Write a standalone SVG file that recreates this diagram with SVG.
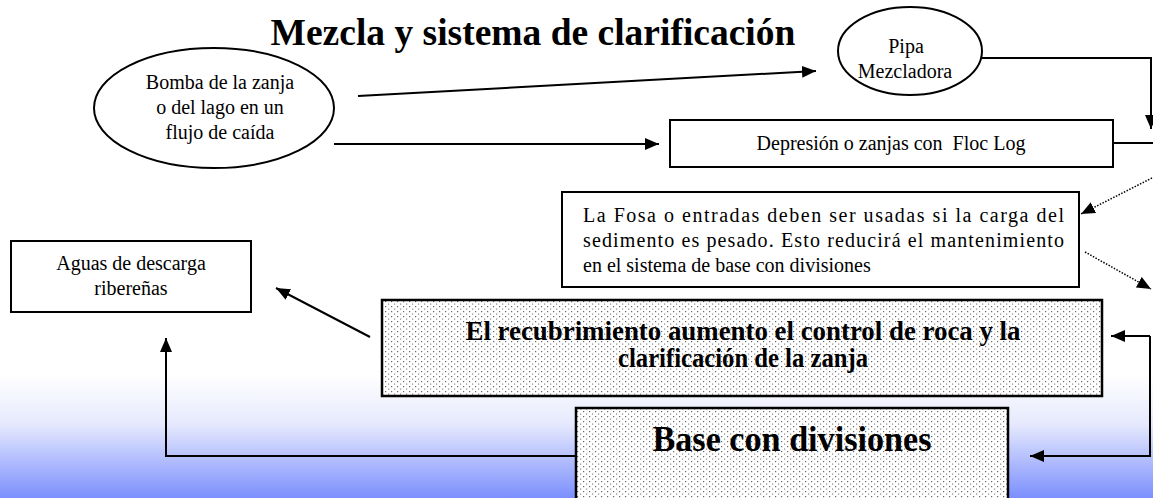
<svg xmlns="http://www.w3.org/2000/svg" width="1153" height="498" viewBox="0 0 1153 498">
<defs>
<linearGradient id="bg" x1="0" y1="0" x2="0" y2="1">
<stop offset="0" stop-color="#ffffff"/>
<stop offset="0.4" stop-color="#e6e9fd"/>
<stop offset="1" stop-color="#7b8ffd"/>
</linearGradient>
<pattern id="dots" width="6" height="5" patternUnits="userSpaceOnUse">
<rect width="6" height="5" fill="#fff"/>
<rect x="1" y="1" width="1.2" height="1.2" fill="#666"/>
<rect x="4" y="3.5" width="1.2" height="1.2" fill="#888"/>
</pattern>
<marker id="ah" viewBox="0 0 14 12" refX="14" refY="6" markerWidth="14" markerHeight="12" markerUnits="userSpaceOnUse" orient="auto">
<path d="M0,0 L14,6 L0,12 Z" fill="#000"/>
</marker>
</defs>
<style>
.t{font-family:"Liberation Serif","Times New Roman",serif;fill:#000}
.box{fill:#fff;stroke:#000;stroke-width:2}
.dbox{fill:url(#dots);stroke:#000;stroke-width:2.5}
.ln{fill:none;stroke:#000;stroke-width:2}
.dl{fill:none;stroke:#000;stroke-width:1.5;stroke-dasharray:1.5 1.5}
.bt{font-weight:bold}
</style>
<rect x="0" y="375" width="1153" height="123" fill="url(#bg)"/>
<text class="t bt" x="533" y="45" font-size="37.5" text-anchor="middle">Mezcla y sistema de clarificación</text>

<g id="connectors">
<line class="ln" x1="358" y1="96" x2="816" y2="71" marker-end="url(#ah)"/>
<line class="ln" x1="334" y1="144" x2="659" y2="144" marker-end="url(#ah)"/>
<polyline class="ln" points="982,58 1151,58 1151,129" marker-end="url(#ah)"/>
<line class="ln" x1="1113" y1="143" x2="1153" y2="143"/>
<line class="dl" x1="1152" y1="178" x2="1081" y2="214" marker-end="url(#ah)"/>
<line class="dl" x1="1085" y1="252" x2="1151" y2="289" marker-end="url(#ah)"/>
<line class="ln" x1="370" y1="337" x2="276" y2="288" marker-end="url(#ah)"/>
<polyline class="ln" points="576,456 166,456 166,338" marker-end="url(#ah)"/>
<polyline class="ln" points="1150,336 1111,336" marker-end="url(#ah)"/>
<polyline class="ln" points="1150,336 1150,456 1030,456" marker-end="url(#ah)"/>
</g>

<g id="bomba">
<ellipse cx="214" cy="108" rx="120" ry="60" fill="#fff" stroke="#000" stroke-width="2"/>
<text class="t" font-size="20" text-anchor="middle"><tspan x="220" y="89">Bomba de la zanja</tspan><tspan x="220" y="114">o del lago en un</tspan><tspan x="220" y="139">flujo de caída</tspan></text>
</g>

<g id="pipa">
<ellipse cx="910" cy="51" rx="72" ry="44" fill="#fff" stroke="#000" stroke-width="2"/>
<text class="t" font-size="20" text-anchor="middle"><tspan x="906" y="53">Pipa</tspan><tspan x="905" y="78">Mezcladora</tspan></text>
</g>

<g id="depresion">
<rect class="box" x="670" y="120" width="443" height="47"/>
<text class="t" x="891" y="150" font-size="20" text-anchor="middle" xml:space="preserve">Depresión o zanjas con  Floc Log</text>
</g>

<g id="fosa">
<rect class="box" x="562" y="192" width="517" height="95"/>
<text class="t" font-size="20"><tspan x="583" y="222" textLength="481" lengthAdjust="spacing">La Fosa o entradas deben ser usadas si la carga del</tspan><tspan x="583" y="247" textLength="481" lengthAdjust="spacing">sedimento es pesado. Esto reducirá el mantenimiento</tspan><tspan x="583" y="272">en el sistema de base con divisiones</tspan></text>
</g>

<g id="aguas">
<rect class="box" x="11" y="241" width="240" height="71"/>
<text class="t" font-size="20" text-anchor="middle"><tspan x="131" y="270">Aguas de descarga</tspan><tspan x="131" y="295">ribereñas</tspan></text>
</g>

<g id="recubrimiento">
<rect class="dbox" x="382" y="300" width="720" height="96"/>
<text class="t bt" font-size="27" text-anchor="middle"><tspan x="743" y="340" textLength="555" lengthAdjust="spacingAndGlyphs">El recubrimiento aumento el control de roca y la</tspan><tspan x="743" y="367" textLength="250" lengthAdjust="spacingAndGlyphs">clarificación de la zanja</tspan></text>
</g>

<g id="base">
<rect class="dbox" x="576" y="408" width="432" height="100"/>
<text class="t bt" x="792" y="451" font-size="35" text-anchor="middle" textLength="279" lengthAdjust="spacingAndGlyphs">Base con divisiones</text>
</g>
</svg>
